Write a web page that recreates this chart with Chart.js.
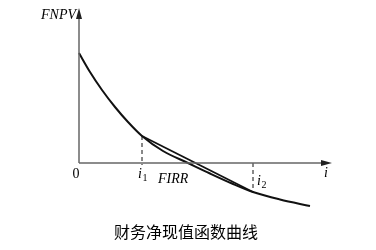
<!DOCTYPE html>
<html>
<head>
<meta charset="utf-8">
<script src="https://cdn.jsdelivr.net/npm/chart.js@4/dist/chart.umd.min.js"></script>
<style>
  html, body { margin: 0; padding: 0; background: #fff; }
  #wrap { width: 376px; height: 250px; position: relative; }
</style>
</head>
<body>
<div id="wrap"><canvas id="chart"></canvas></div>
<script>
// NPV curve (rate i vs FNPV, arbitrary units)
const curveRate = [0, 1.1, 2.3, 3.6, 4.9, 6.3, 8.4, 10.9, 13.1, 15.3, 17.4, 20.1, 23.1];
const curveNpv  = [11.0, 9.1, 7.3, 5.6, 4.1, 2.7, 1.2, 0, -1.05, -2.05, -2.9, -3.65, -4.3];

// the two trial rates and their NPV
const i1 = 6.3, npv1 = 2.7;
const i2 = 17.4, npv2 = -2.9;

// axis extents
const axisEndX = 25.3;
const axisEndY = 15.5;

const title = '财务净现值函数曲线';

const pts = (xs, ys) => xs.map((x, k) => ({ x: x, y: ys[k] }));

const labelPlugin = {
    id: 'labels',
    afterDatasetsDraw(chart) {
        const ctx = chart.ctx;
        const sx = chart.scales.x, sy = chart.scales.y;
        const px = v => sx.getPixelForValue(v);
        const py = v => sy.getPixelForValue(v);
        ctx.save();

        // arrow heads
        ctx.fillStyle = '#222';
        ctx.beginPath();
        ctx.moveTo(px(axisEndX), py(0));
        ctx.lineTo(px(axisEndX) - 11, py(0) - 3);
        ctx.lineTo(px(axisEndX) - 11, py(0) + 3);
        ctx.closePath();
        ctx.fill();
        ctx.beginPath();
        ctx.moveTo(px(0), py(axisEndY));
        ctx.lineTo(px(0) - 3, py(axisEndY) + 11);
        ctx.lineTo(px(0) + 3, py(axisEndY) + 11);
        ctx.closePath();
        ctx.fill();

        const serif = '"Liberation Serif", "DejaVu Serif", serif';
        ctx.fillStyle = '#000';
        ctx.textBaseline = 'alphabetic';

        // FNPV
        ctx.font = 'italic 14px ' + serif;
        ctx.textAlign = 'right';
        ctx.fillText('FNPV', px(0) - 3, py(axisEndY) + 11);

        // 0
        ctx.font = '14px ' + serif;
        ctx.textAlign = 'center';
        ctx.fillText('0', px(0) - 3, py(0) + 15);

        // i (axis)
        ctx.font = 'italic 14px ' + serif;
        ctx.fillText('i', px(axisEndX) - 6, py(0) + 14);

        const sub = (s, n, x, y) => {
            ctx.textAlign = 'left';
            ctx.font = 'italic 14px ' + serif;
            ctx.fillText(s, x, y);
            const w = ctx.measureText(s).width;
            ctx.font = '10px ' + serif;
            ctx.fillText(n, x + w + 0.5, y + 3);
        };
        sub('i', '1', px(i1) - 4, py(0) + 15);
        sub('i', '2', px(i2) + 4, py(0) + 22);

        // FIRR
        ctx.font = 'italic 14px ' + serif;
        ctx.textAlign = 'left';
        ctx.fillText('FIRR', px(i1) + 16, py(0) + 20);

        // caption
        ctx.font = '16px "Noto Sans CJK SC", sans-serif';
        ctx.textAlign = 'center';
        ctx.textBaseline = 'middle';
        ctx.fillText(title, px(10.7), py(-6.9));

        ctx.restore();
    }
};

const ctx = document.getElementById('chart').getContext('2d');
const chart = new Chart(ctx, {
    type: 'scatter',
    data: {
        datasets: [
            {
                // x axis
                data: [{ x: 0, y: 0 }, { x: axisEndX - 0.8, y: 0 }],
                showLine: true,
                borderColor: '#666',
                borderWidth: 1.5,
                pointRadius: 0,
            },
            {
                // y axis
                data: [{ x: 0, y: 0 }, { x: 0, y: axisEndY - 0.8 }],
                showLine: true,
                borderColor: '#666',
                borderWidth: 1.5,
                pointRadius: 0,
            },
            {
                // NPV curve
                data: pts(curveRate, curveNpv),
                showLine: true,
                borderColor: '#111',
                borderWidth: 2,
                pointRadius: 0,
                cubicInterpolationMode: 'monotone',
            },
            {
                // chord between the two trial rates
                data: [{ x: i1, y: npv1 }, { x: i2, y: npv2 }],
                showLine: true,
                borderColor: '#111',
                borderWidth: 1.8,
                pointRadius: 0,
            },
            {
                data: [{ x: i1, y: npv1 }, { x: i1, y: -0.2 }],
                showLine: true,
                borderColor: '#111',
                borderWidth: 1,
                borderDash: [4, 3],
                pointRadius: 0,
            },
            {
                data: [{ x: i2, y: 0 }, { x: i2, y: npv2 }],
                showLine: true,
                borderColor: '#111',
                borderWidth: 1,
                borderDash: [4, 3],
                pointRadius: 0,
            },
        ],
    },
    options: {
        responsive: true,
        maintainAspectRatio: false,
        animation: false,
        layout: { padding: 0 },
        scales: {
            x: { type: 'linear', min: -7.9, max: 29.7, display: false },
            y: { type: 'linear', min: -8.7, max: 16.3, display: false },
        },
        plugins: {
            legend: { display: false },
            tooltip: { enabled: false },
        },
    },
    plugins: [labelPlugin],
});
</script>
</body>
</html>
